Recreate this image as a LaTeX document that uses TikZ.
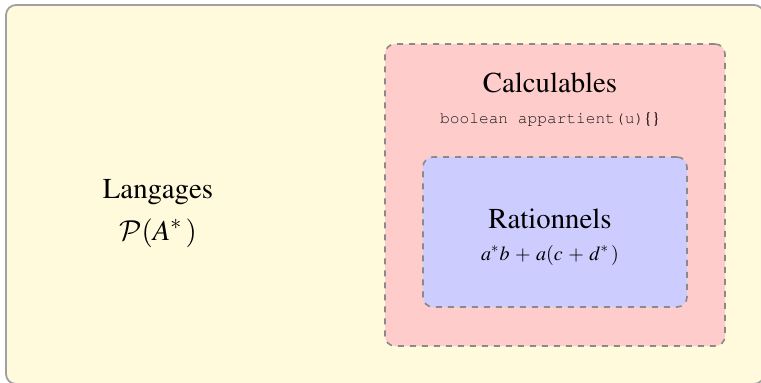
\documentclass[tikz,border=0pt]{standalone}
\usepackage[T1]{fontenc}
\usepackage{mathptmx}
\usepackage{courier}
\DeclareMathAlphabet{\mathcal}{OMS}{cmsy}{m}{n}
\definecolor{outerfill}{HTML}{FFFADC}
\definecolor{outerdraw}{HTML}{A0A0A0}
\definecolor{redfill}{HTML}{FFCCCC}
\definecolor{bluefill}{HTML}{CCCCFF}
\definecolor{dashdraw}{HTML}{8A8A8A}
\tikzset{
  panel/.style={draw=outerdraw, fill=outerfill, line width=0.9pt, rounded corners=5pt},
  setbox/.style={draw=dashdraw, dashed, line width=0.8pt, rounded corners=5pt, inner sep=0pt},
  title/.style={anchor=base, inner sep=0pt, font=\rmfamily\fontsize{14.4}{17}\selectfont},
  sub/.style={anchor=base, inner sep=0pt}
}
\begin{document}
\begin{tikzpicture}[x=0.5pt,y=-0.5pt]
\useasboundingbox (0,0) rectangle (761,382);
\draw[panel] (6,5) rectangle (764,384);
\node[setbox, fill=redfill, minimum width=170pt, minimum height=151pt] (calc) at (555,195) {};
\node[setbox, fill=bluefill, minimum width=132pt, minimum height=75pt] (rat) at (555,232) {};
\node[title] (calct) at (550,92) {Calculables};
\node[sub, font=\rmfamily\fontsize{8.1}{10}\selectfont] (calcc) at (550,123) {\textcolor{black!90}{\ttfamily boolean appartient(u)}\{\}};
\node[title] (ratt) at (550,228) {Rationnels};
\node[sub, font=\fontsize{10}{12}\selectfont] (ratm) at (550,260) {$\medmuskip=5mu a^*b + a(c + d^*\,)$};
\node[title] (lang) at (158,198) {Langages};
\node[title] (langm) at (158,240) {$\mathcal{P}(A^*\,)$};
\end{tikzpicture}
\end{document}
